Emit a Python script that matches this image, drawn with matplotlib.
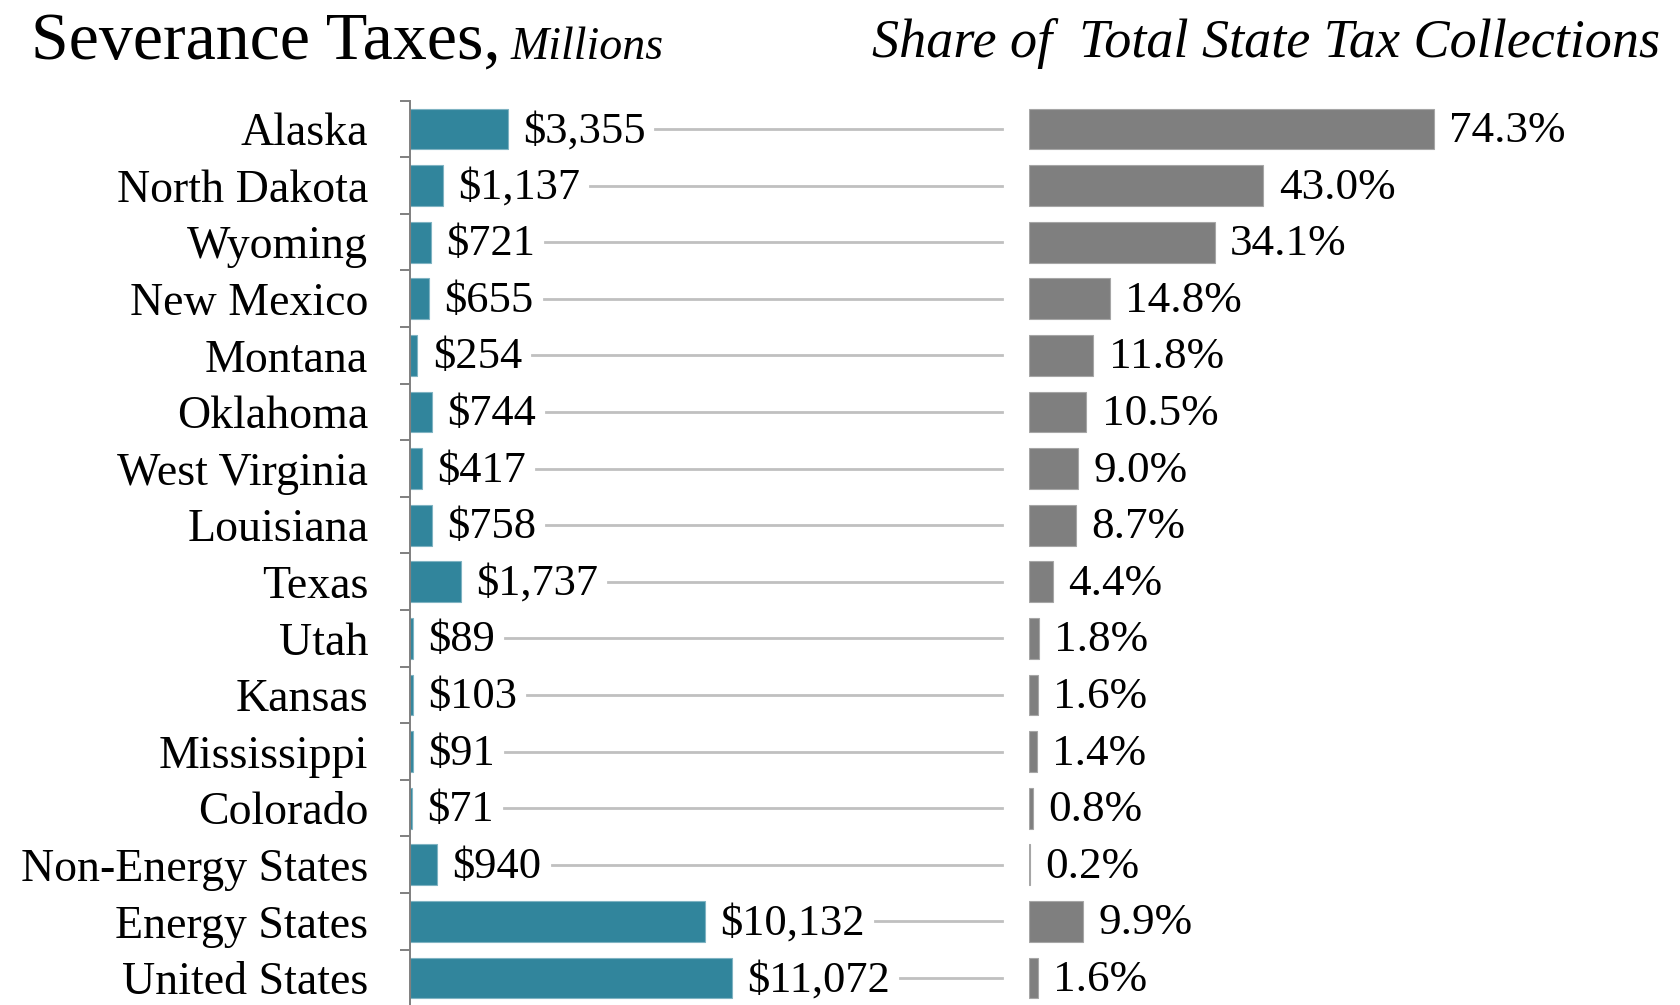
import matplotlib.pyplot as plt

states = ["Alaska", "North Dakota", "Wyoming", "New Mexico", "Montana", "Oklahoma",
          "West Virginia", "Louisiana", "Texas", "Utah", "Kansas", "Mississippi",
          "Colorado", "Non-Energy States", "Energy States", "United States"]
taxes = [3355, 1137, 721, 655, 254, 744, 417, 758, 1737, 89, 103, 91, 71, 940, 10132, 11072]
share = [74.3, 43.0, 34.1, 14.8, 11.8, 10.5, 9.0, 8.7, 4.4, 1.8, 1.6, 1.4, 0.8, 0.2, 9.9, 1.6]

teal = "#31859c"
grey = "#7f7f7f"
W, H = 1681, 1005

plt.rcParams["font.family"] = ["Liberation Serif", "DejaVu Serif"]

fig = plt.figure(figsize=(W / 100, H / 100), dpi=100)

n = len(states)
ypos = list(range(n))
top, bot = 100.7, 1006.3

# left panel: severance taxes
axL = fig.add_axes([410 / W, (H - bot) / H, (1002 - 410) / W, (bot - top) / H])
axL.barh(ypos, taxes, height=0.72, color=teal, edgecolor="#7fb3c2", linewidth=0.8)
axL.set_xlim(0, 11072 * (1002 - 410) / (732 - 410))
axL.set_ylim(n - 0.5, -0.5)
for s in ["top", "right", "bottom"]:
    axL.spines[s].set_visible(False)
axL.spines["left"].set_color(grey)
axL.spines["left"].set_linewidth(1.4)
axL.set_xticks([])
axL.set_yticks(ypos)
axL.set_yticklabels(states, fontsize=33)
axL.tick_params(axis="y", which="major", length=0, pad=30)
axL.set_yticks([i - 0.5 for i in range(n)], minor=True)
axL.tick_params(axis="y", which="minor", length=7, width=1.4, color=grey, direction="out")

val_texts = []
for i, v in enumerate(taxes):
    t = axL.annotate(f"${v:,}", (v, i), xytext=(11, -1.5), textcoords="offset points",
                     va="center", ha="left", fontsize=32)
    val_texts.append(t)

# right panel: share of total state tax collections
axR = fig.add_axes([1029 / W, (H - bot) / H, (1600 - 1029) / W, (bot - top) / H])
axR.barh(ypos, share, height=0.72, color=grey, edgecolor="#a6a6a6", linewidth=0.8)
axR.set_xlim(0, 74.3 * (1600 - 1029) / (1434 - 1029))
axR.set_ylim(n - 0.5, -0.5)
axR.axis("off")
for i, v in enumerate(share):
    axR.annotate(f"{v:.1f}%", (v, i), xytext=(11, -1.5), textcoords="offset points",
                 va="center", ha="left", fontsize=32.5)

# titles
t1 = fig.text(31 / W, 1 - 59 / H, "Severance Taxes,", fontsize=49, va="baseline", ha="left")
fig.text(1660 / W, 1 - 57 / H, "Share of  Total State Tax Collections", fontsize=39,
         style="italic", va="baseline", ha="right")

# connector lines from value labels to the right panel
fig.canvas.draw()
r = fig.canvas.get_renderer()
bb = t1.get_window_extent(r)
fig.text((bb.x1 + 10) / W, 1 - 59 / H, "Millions", fontsize=33, style="italic",
         va="baseline", ha="left")
xend = axL.get_xlim()[1]
for i, t in enumerate(val_texts):
    x0 = t.get_window_extent(r).x1 + 10
    xd = axL.transData.inverted().transform((x0, 0))[0]
    axL.plot([xd, xend], [i, i], color="#c0c0c0", linewidth=2, clip_on=False)

fig.savefig("out.png", dpi=100)
